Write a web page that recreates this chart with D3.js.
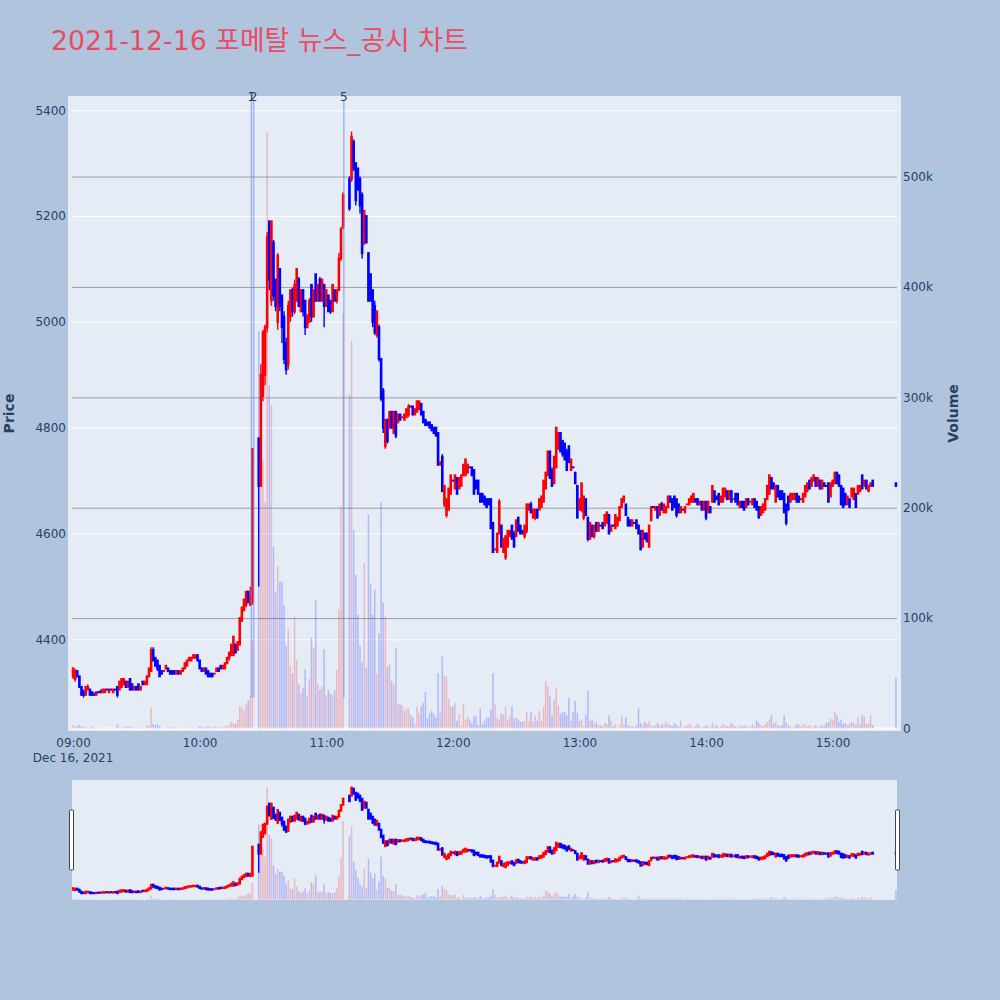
<!DOCTYPE html>
<html><head><meta charset="utf-8">
<script src="https://cdn.jsdelivr.net/npm/d3@7"></script>
<style>
body{margin:0;background:#b0c4de;}
svg{display:block;font-family:"DejaVu Sans","Noto Sans CJK KR",sans-serif;}
</style></head>
<body><svg id="chart" width="1000" height="1000"></svg>
<script>
// ---------------- DATA ----------------
const titleText = "2021-12-16 포메탈 뉴스_공시 차트";
const sessionDate = [2021, 11, 16];        // Dec 16, 2021
const firstMinute = [9, 0];                // one candle per minute from 09:00
const closingAuction = "15:30";            // last entry of the arrays
const priceTicks = [4400, 4600, 4800, 5000, 5200, 5400];
const volumeTicks = [0, 100000, 200000, 300000, 400000, 500000];
const volumeTickLabels = ["0", "100k", "200k", "300k", "400k", "500k"];
const hourTicks = ["09:00", "10:00", "11:00", "12:00", "13:00", "14:00", "15:00"];
const newsTimes = ["10:24:30", "10:25:35", "11:08:20"];
const newsLabels = ["1", "2", "5"];
const newsSpan = [4290, 5420];

const opens = [
4330,4325,4340,4330,4310,4300,4295,4305,4305,4300,4295,
4295,4300,4300,4300,4300,4305,4300,4305,4300,4305,
4310,4305,4310,4315,4320,4310,4325,4315,4305,4310,
4315,4305,4320,4315,4315,4330,4340,4380,4365,4360,
4350,4340,4340,4345,4345,4340,4340,4340,4335,4340,
4335,4340,4345,4350,4360,4360,4365,4365,4370,4360,
4345,4340,4345,4340,4335,4335,4335,4340,4345,4350,
4345,4345,4355,4365,4370,4370,4390,4380,4390,4435,
4455,4465,4490,4465,4470,null,null,4780,4690,4860,
4900,4990,5190,5040,5150,5080,5000,5100,5050,5010,
4960,4920,5010,5060,5020,5040,5080,5020,5060,5040,
4990,5000,5070,5010,5090,5040,5080,5040,5070,5030,
5050,5040,5020,5060,5040,5060,5120,5180,null,null,
5270,5270,5340,5300,5290,5270,5240,5150,5200,5130,
5090,5060,5030,4975,4990,4930,4870,4765,4815,4800,
4830,4790,4830,4810,4825,4820,4815,4820,4825,4840,
4840,4825,4830,4835,4845,4830,4815,4810,4810,4805,
4800,4800,4790,4730,4745,4655,4635,4645,4675,
4700,4685,4705,4685,4690,4710,4710,4715,4725,4725,
4720,4700,4700,4675,4675,4670,4665,4665,4665,4620,
4570,4565,4600,4615,4565,4555,4575,4595,4615,4600,
4595,4630,4615,4605,4595,4605,4645,4655,4630,4630,
4645,4645,4650,4660,4685,4710,4755,4720,4695,4725,
4760,4790,4775,4770,4755,4765,4720,4725,4715,4690,
4645,4645,4630,4665,4630,4590,4615,4595,4620,4605,
4615,4620,4615,4620,4635,4605,4615,4610,4615,4625,
4650,4660,4655,4630,4625,4615,4620,4625,4615,4605,
4575,4600,4600,4575,4625,4650,4645,4650,4635,4655,
4640,4640,4650,4670,4665,4670,4665,4655,4640,4645,
4640,4655,4655,4660,4660,4665,4665,4655,4660,4645,
4660,4640,4650,4660,4680,4670,4675,4660,4660,4670,
4680,4665,4680,4665,4675,4675,4650,4660,4660,4650,
4665,4660,4655,4665,4660,4650,4635,4640,4645,4665,
4675,4705,4695,4660,4690,4680,4680,4675,4655,4670,
4660,4665,4665,4675,4670,4665,4660,4670,4680,4700,
4690,4700,4705,4690,4700,4685,4695,4690,4695,4670,
4690,4695,4715,4710,4690,4685,4675,4655,4665,4670,
4665,4675,4675,4680,4710,4690,4700,4680,4690,4700,
4695];

const highs = [
4345,4345,4340,4330,4310,4305,4310,4315,4305,4300,4300,
4300,4300,4305,4305,4305,4305,4305,4305,4305,4305,
4310,4320,4325,4325,4320,4320,4325,4315,4310,4310,
4315,4310,4320,4320,4330,4345,4385,4385,4365,4360,
4350,4340,4340,4350,4345,4340,4340,4340,4340,4340,
4340,4345,4355,4360,4365,4365,4370,4370,4370,4360,
4345,4345,4345,4340,4335,4335,4335,4345,4345,4350,
4350,4355,4365,4375,4390,4405,4390,4395,4440,4460,
4475,4490,4490,4500,4760,null,null,4780,4920,4985,
4995,5170,5190,5190,5155,5080,5130,5100,5050,5020,
4970,5040,5060,5065,5080,5100,5085,5060,5060,5040,
5015,5045,5070,5060,5090,5070,5085,5080,5070,5060,
5050,5040,5070,5060,5060,5130,5180,5245,null,null,
5275,5360,5345,5300,5290,5275,5245,5210,5200,5130,
5090,5060,5040,5020,4995,4930,4875,4815,4815,4830,
4830,4830,4830,4825,4825,4820,4825,4835,4845,4840,
4840,4835,4850,4850,4845,4830,4815,4810,4810,4805,
4800,4800,4790,4735,4750,4690,4665,4685,4710,
4700,4710,4705,4705,4710,4730,4740,4730,4725,4725,
4720,4700,4700,4675,4675,4670,4665,4665,4665,4620,
4570,4600,4665,4615,4590,4595,4605,4605,4615,4605,
4625,4630,4615,4605,4615,4655,4655,4660,4645,4645,
4645,4665,4670,4700,4715,4755,4755,4725,4745,4800,
4790,4790,4775,4770,4760,4765,4740,4725,4715,4690,
4665,4695,4670,4665,4630,4620,4615,4615,4620,4620,
4615,4620,4635,4640,4635,4615,4615,4635,4630,4650,
4665,4670,4655,4630,4625,4625,4620,4625,4615,4605,
4605,4600,4600,4615,4650,4650,4650,4650,4655,4660,
4655,4650,4670,4670,4665,4670,4665,4655,4650,4645,
4650,4655,4665,4670,4675,4665,4665,4660,4660,4660,
4660,4660,4650,4690,4680,4670,4675,4670,4685,4685,
4680,4680,4680,4665,4675,4675,4660,4660,4660,4665,
4665,4660,4665,4665,4660,4650,4650,4655,4665,4690,
4710,4705,4695,4690,4690,4680,4680,4675,4655,4670,
4675,4675,4675,4675,4670,4665,4675,4690,4695,4700,
4705,4710,4705,4705,4700,4700,4695,4690,4695,4695,
4700,4715,4715,4710,4690,4685,4675,4670,4665,4685,
4685,4675,4690,4690,4710,4700,4700,4690,4695,4700,
4695];

const lows = [
4325,4320,4330,4310,4295,4290,4295,4305,4295,4295,4295,
4295,4300,4300,4300,4300,4305,4300,4305,4300,4305,
4290,4305,4310,4315,4310,4310,4305,4305,4305,4305,
4305,4305,4315,4315,4315,4330,4340,4360,4350,4340,
4330,4335,4340,4345,4340,4335,4335,4335,4335,4335,
4335,4340,4345,4350,4360,4360,4365,4365,4360,4345,
4340,4340,4335,4330,4330,4330,4335,4340,4340,4345,
4345,4345,4355,4360,4370,4370,4375,4380,4390,4435,
4455,4460,4470,4465,4465,null,null,4500,4690,4850,
4880,4980,5060,5030,5040,5020,4985,5020,4960,4920,
4900,4910,5000,5010,5015,5040,5030,5020,5010,4975,
4990,5000,5000,5010,5040,5040,5040,5040,4990,5030,
5020,5015,5020,5040,5035,5060,5115,5175,null,null,
5210,5265,5285,5220,5250,5205,5120,5145,5150,5040,
5040,4990,4975,4970,4925,4850,4790,4760,4770,4800,
4800,4790,4780,4810,4815,4820,4815,4820,4820,4840,
4825,4825,4830,4835,4825,4810,4805,4805,4800,4795,
4790,4785,4730,4730,4680,4650,4630,4645,4675,
4700,4685,4675,4685,4690,4710,4710,4715,4725,4710,
4675,4685,4675,4660,4660,4655,4650,4655,4610,4565,
4570,4565,4600,4575,4565,4550,4575,4595,4590,4575,
4595,4605,4600,4600,4590,4600,4645,4640,4630,4625,
4630,4645,4650,4660,4685,4710,4705,4690,4695,4725,
4760,4755,4745,4740,4720,4735,4720,4725,4695,4630,
4645,4640,4625,4635,4585,4590,4595,4590,4605,4605,
4615,4610,4615,4620,4600,4605,4615,4610,4615,4625,
4650,4660,4635,4615,4615,4615,4620,4610,4600,4570,
4575,4590,4585,4575,4625,4650,4645,4630,4635,4645,
4640,4640,4650,4660,4645,4650,4630,4640,4640,4645,
4640,4655,4655,4660,4660,4660,4655,4655,4645,4645,
4625,4640,4640,4660,4660,4665,4655,4660,4660,4670,
4665,4665,4660,4665,4660,4655,4650,4650,4645,4650,
4655,4660,4655,4650,4645,4630,4635,4640,4645,4665,
4675,4685,4685,4660,4670,4665,4665,4640,4615,4645,
4660,4665,4665,4660,4660,4665,4660,4670,4680,4685,
4690,4700,4690,4690,4685,4685,4690,4690,4660,4670,
4690,4695,4695,4690,4655,4650,4655,4655,4650,4670,
4665,4650,4675,4680,4685,4690,4685,4680,4690,4690,
4690];

const closes = [
4345,4340,4330,4310,4295,4295,4310,4310,4295,4295,4295,
4300,4300,4300,4305,4305,4305,4305,4305,4305,4305,
4295,4320,4325,4325,4310,4320,4305,4305,4310,4305,
4305,4310,4315,4320,4330,4345,4380,4360,4350,4345,
4330,4335,4340,4350,4340,4335,4335,4335,4340,4335,
4340,4345,4355,4360,4365,4365,4370,4370,4360,4345,
4340,4345,4335,4330,4330,4330,4335,4345,4340,4345,
4350,4355,4365,4375,4390,4405,4375,4395,4440,4460,
4475,4490,4470,4480,4760,null,null,4690,4900,4980,
4990,5160,5080,5190,5050,5030,5125,5030,4990,4930,
4910,5030,5060,5020,5070,5100,5030,5060,5020,4990,
5010,5040,5010,5060,5040,5070,5040,5080,5030,5060,
5020,5020,5070,5040,5060,5120,5175,5240,null,null,
5215,5350,5290,5230,5250,5220,5130,5210,5150,5040,
5040,5000,4980,5020,4930,4855,4800,4815,4775,4830,
4800,4830,4785,4825,4815,4820,4825,4835,4840,4840,
4825,4835,4850,4850,4825,4810,4805,4805,4800,4795,
4790,4785,4730,4735,4680,4690,4665,4685,4710,
4700,4710,4675,4705,4710,4730,4740,4730,4725,4710,
4675,4685,4675,4660,4660,4655,4650,4655,4610,4565,
4570,4600,4660,4575,4590,4595,4605,4605,4590,4575,
4625,4605,4600,4600,4615,4655,4655,4640,4645,4645,
4630,4665,4670,4700,4715,4755,4705,4690,4745,4800,
4790,4755,4750,4740,4720,4735,4740,4725,4695,4630,
4665,4695,4670,4635,4590,4620,4595,4615,4605,4620,
4615,4610,4635,4640,4600,4615,4615,4635,4630,4650,
4665,4670,4635,4615,4615,4625,4620,4610,4600,4570,
4605,4590,4585,4615,4650,4650,4650,4630,4655,4645,
4655,4650,4670,4660,4645,4650,4635,4640,4650,4645,
4650,4655,4665,4670,4675,4660,4655,4660,4645,4660,
4630,4660,4640,4690,4660,4665,4655,4670,4685,4685,
4665,4680,4660,4665,4660,4655,4660,4650,4645,4665,
4655,4660,4665,4650,4645,4630,4650,4655,4665,4690,
4710,4685,4685,4690,4670,4665,4665,4640,4620,4645,
4675,4675,4675,4660,4660,4665,4675,4690,4695,4685,
4705,4710,4690,4705,4685,4700,4690,4690,4660,4695,
4700,4715,4695,4690,4655,4650,4655,4670,4650,4685,
4685,4650,4690,4690,4685,4700,4685,4690,4695,4690,
4690];

// volume in thousands of shares
const volumesK = [
3,2,2,3,2,2,1,1,1,2,0.5,
1,0.3,0.3,0.5,0.5,0.3,0.5,0.3,0.5,0.3,
4,1,1,1,2,1,2,1,1,1,
1,0.5,1,1,3,3,19,4,3,4,
2,1,0.5,0.5,1,1,1,1,0.5,0.5,
0.5,1,1,1,1,0.5,1,0.5,1,2,
2,1,1,2,1,1,2,1,1,1,
1,2,2,3,6,5,4,8,20,19,
16,22,25,30,80,null,null,360,220,243,
205,540,311,293,165,124,147,133,133,112,
75,90,56,50,101,62,40,32,37,54,
30,45,82,73,116,40,35,38,72,30,
35,32,30,35,53,108,201,376,null,null,
302,351,180,139,103,75,60,150,55,194,
131,103,126,50,86,205,114,101,56,58,
43,40,73,22,22,21,16,18,18,12,
10,4,20,14,20,23,33,9,14,16,
13,10,50,14,65,48,47,27,20,
20,23,7,13,3,22,8,11,8,5,
11,11,3,18,4,7,10,10,17,50,
22,9,8,13,13,19,8,11,20,9,
10,8,6,6,6,15,7,15,6,11,
7,16,7,19,43,38,30,12,26,37,
21,13,15,15,12,28,7,15,25,14,
7,8,2,12,34,7,8,4,6,3,
3,2,5,4,12,7,2,4,1,3,
11,4,10,3,2,2,1,3,18,5,
3,6,4,7,3,2,3,5,2,4,
3,6,4,3,2,5,3,2,7,1,
2,3,4,3,1,2,4,2,1,2,
3,2,1,5,2,3,1,2,4,3,
2,2,5,3,2,1,3,2,2,3,
1,2,4,2,7,5,3,2,4,6,
8,12,4,6,3,2,3,12,5,3,
2,1,2,4,3,2,3,4,2,3,
1,2,3,1,2,3,2,5,6,9,
8,15,12,6,8,4,5,3,4,6,
5,3,10,4,12,11,4,5,12,3,
46];

// ---------------- BUILD ----------------
const pt = s => { const [h,m,sec] = s.split(":").map(Number); return new Date(sessionDate[0], sessionDate[1], sessionDate[2], h, m, sec||0); };
const n = opens.length;
const times = d3.range(n).map(i => i === n-1 ? pt(closingAuction)
  : new Date(sessionDate[0], sessionDate[1], sessionDate[2], firstMinute[0], firstMinute[1] + i));
const rows = d3.range(n).map(i => ({t: times[i], o: opens[i], h: highs[i], l: lows[i], c: closes[i],
  v: volumesK[i] == null ? null : volumesK[i]*1000}));
rows.forEach((d,i) => {
  if (d.o == null) { d.up = null; return; }
  if (d.c > d.o) d.up = true; else if (d.c < d.o) d.up = false;
  else { let j = i-1; while (j >= 0 && rows[j].c == null) j--; d.up = j >= 0 && d.c > rows[j].c; }
});

const svg = d3.select("#chart");
const RED = "#ff0000", BLUE = "#0000ff", INK = "#2a3f5f";
const L = 72, R = 897, T = 96, B = 731;
const x = d3.scaleTime().domain([pt("08:59:30"), pt("15:30:30")]).range([L, R]);
const yP = d3.scaleLinear().domain([4226.7, 5427]).range([B, T]);
const yV = d3.scaleLinear().domain([-2300, 573000]).range([B, T]);

// title
svg.append("text").attr("x", 51).attr("y", 50).attr("font-size", 26.8).attr("fill", "#ea4c62").text(titleText);

// plot background
svg.append("rect").attr("x", 68).attr("y", T).attr("width", 901-68).attr("height", B-T).attr("fill", "#e5ecf6");

// grid
const gGrid = svg.append("g");
gGrid.append("g").attr("transform", `translate(${L},0)`)
  .call(d3.axisLeft(yP).tickValues(priceTicks).tickSize(-(R-L)).tickFormat(""))
  .call(g => { g.select(".domain").remove(); g.selectAll("line").attr("stroke", "#fff").attr("stroke-width", 1); });
gGrid.append("g").attr("transform", `translate(${R},0)`)
  .call(d3.axisRight(yV).tickValues(volumeTicks.slice(1)).tickSize(-(R-L)).tickFormat(""))
  .call(g => { g.select(".domain").remove(); g.selectAll("line").attr("stroke", "#9c9fa6").attr("stroke-width", 1); });
gGrid.append("line").attr("x1", L).attr("x2", R).attr("y1", yV(0)).attr("y2", yV(0)).attr("stroke", "#fff").attr("stroke-width", 2);

// axes labels
const styleTicks = g => { g.select(".domain").remove(); g.selectAll("text").attr("fill", INK).attr("font-size", 12).attr("font-family", "DejaVu Sans"); };
svg.append("g").attr("transform", `translate(${L},0)`)
  .call(d3.axisLeft(yP).tickValues(priceTicks).tickSize(0).tickPadding(6).tickFormat(d3.format("d"))).call(styleTicks);
svg.append("g").attr("transform", `translate(${R},0)`)
  .call(d3.axisRight(yV).tickValues(volumeTicks).tickSize(0).tickPadding(6).tickFormat((d,i) => volumeTickLabels[i])).call(styleTicks);
svg.append("g").attr("transform", `translate(0,${B})`)
  .call(d3.axisBottom(x).tickValues(hourTicks.map(pt)).tickSize(0).tickPadding(7).tickFormat(d3.timeFormat("%H:%M"))).call(styleTicks);
svg.append("text").attr("x", x(pt(hourTicks[0]))).attr("y", 762).attr("text-anchor", "middle")
  .attr("font-size", 12).attr("fill", INK).text(d3.timeFormat("%b %-d, %Y")(pt(hourTicks[0])));
svg.append("text").attr("transform", "translate(14,413.5) rotate(-90)").attr("text-anchor", "middle")
  .attr("font-size", 14).attr("font-weight", "bold").attr("fill", INK).text("Price");
svg.append("text").attr("transform", "translate(958,413.5) rotate(-90)").attr("text-anchor", "middle")
  .attr("font-size", 14).attr("font-weight", "bold").attr("fill", INK).text("Volume");

// series drawer
function drawSeries(g, py, vy) {
  const vols = rows.filter(d => d.v != null);
  g.append("g").selectAll("rect").data(vols).join("rect")
    .attr("x", d => x(d.t) - 0.75).attr("width", 1.5)
    .attr("y", d => vy(d.v)).attr("height", d => Math.max(0, vy(0) - vy(d.v)))
    .attr("fill", d => d.up ? RED : BLUE).attr("fill-opacity", 0.22);
  const cs = rows.filter(d => d.o != null);
  g.append("g").selectAll("line").data(cs).join("line")
    .attr("x1", d => x(d.t)).attr("x2", d => x(d.t))
    .attr("y1", d => py(d.h)).attr("y2", d => py(d.l))
    .attr("stroke", d => d.up ? RED : BLUE).attr("stroke-width", 1.4);
  g.append("g").selectAll("rect").data(cs).join("rect")
    .attr("x", d => x(d.t) - 1.3).attr("width", 2.6)
    .attr("y", d => py(Math.max(d.o, d.c)) - 1)
    .attr("height", d => Math.abs(py(d.o) - py(d.c)) + 2)
    .attr("fill", d => d.up ? RED : BLUE);
}

const defs = svg.append("defs");
defs.append("clipPath").attr("id", "clipMain").append("rect").attr("x", 68).attr("y", T).attr("width", 901-68).attr("height", B-T);
const gMain = svg.append("g").attr("clip-path", "url(#clipMain)");
drawSeries(gMain, yP, yV);

// news annotations (labels 1 and 2 sit almost on top of each other, as in the source)
const gNews = svg.append("g");
newsTimes.forEach((s, i) => {
  const xx = x(pt(s));
  gNews.append("line").attr("x1", xx).attr("x2", xx).attr("y1", yP(newsSpan[1])).attr("y2", yP(newsSpan[0]))
    .attr("stroke", "#7088ee").attr("stroke-opacity", 0.55).attr("stroke-width", 1.6);
  gNews.append("text").attr("x", xx).attr("y", 101).attr("text-anchor", "middle")
    .attr("font-size", 12).attr("fill", INK).text(newsLabels[i]);
});

// range slider
const ST = 780, SB = 900;
const yPs = yP.copy().range([SB, ST]);
const yVs = yV.copy().range([SB, ST]);
svg.append("rect").attr("x", L).attr("y", ST).attr("width", R-L).attr("height", SB-ST).attr("fill", "#e5ecf6");
defs.append("clipPath").attr("id", "clipSlider").append("rect").attr("x", L).attr("y", ST).attr("width", R-L).attr("height", SB-ST);
const gSl = svg.append("g").attr("clip-path", "url(#clipSlider)");
drawSeries(gSl, yPs, yVs);
[L - 2.5, R - 1.5].forEach(hx => {
  svg.append("rect").attr("x", hx).attr("y", 810).attr("width", 4).attr("height", 60)
    .attr("fill", "#fff").attr("stroke", "#444").attr("stroke-width", 1).attr("rx", 1);
});
</script>
</body></html>
